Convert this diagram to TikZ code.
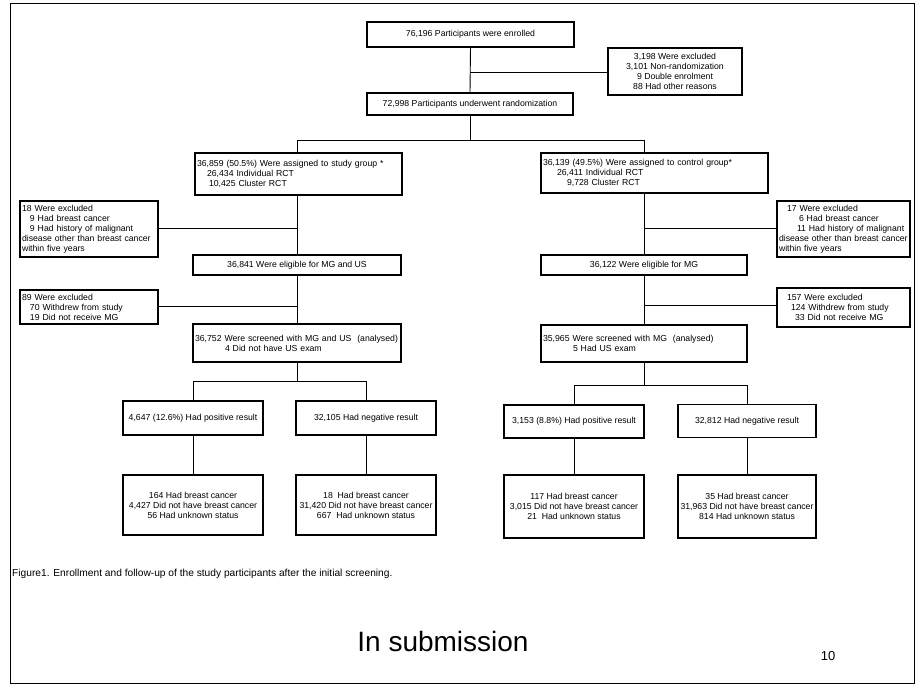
\documentclass[tikz,border=0pt]{standalone}
\usepackage{fontspec}
\setmainfont{Liberation Sans}
\newcommand{\bxfont}{\fontsize{8.7}{10}\selectfont}
\begin{document}
\begin{tikzpicture}[x=1pt,y=-1pt,
  fbox/.style={draw, line width=1.2pt, inner sep=1pt, font=\bxfont, align=center},
  lbox/.style={draw, line width=1.2pt, inner sep=2pt, font=\bxfont, align=left},
  conn/.style={line width=0.9pt}]
\useasboundingbox (0,0) rectangle (919,695);
\fill[white] (0,0) rectangle (919,695);
\draw[line width=0.8pt] (10,3) rectangle (914,683);

% top
\node[fbox, minimum width=207pt, minimum height=25pt] (enrol) at (470.5,34.5) {76,196 Participants were enrolled};
\node[fbox, minimum width=134pt, minimum height=47pt] (excl0) at (675,71.5) {3,198 Were excluded\\3,101 Non-randomization\\9 Double enrolment\\88 Had other reasons};
\node[fbox, minimum width=206pt, minimum height=22pt] (rand) at (470,104) {72,998 Participants underwent randomization};
\coordinate (j0) at (470,72);
\draw[conn] (enrol.south) -- (rand.north);
\draw[conn] (j0) -- (excl0.west |- j0);

% groups
\node[lbox, text width=203pt, minimum height=42pt] (groupL) at (298.5,174) {36,859 (50.5\%) Were assigned to study group *\\\hspace*{10pt}26,434 Individual RCT\\\hspace*{12pt}10,425 Cluster RCT};
\node[lbox, text width=223pt, minimum height=40pt] (groupR) at (654.5,173) {36,139 (49.5\%) Were assigned to control group*\\\hspace*{14pt}26,411 Individual RCT\\\hspace*{24pt}9,728 Cluster RCT};
\coordinate (jt) at (470,140);
\coordinate (jl) at (297,140);
\coordinate (jr) at (644,140);
\draw[conn] (rand.south) -- (jt);
\draw[conn] (jl) -- (jr);
\draw[conn] (jl) -- (jl |- groupL.north);
\draw[conn] (jr) -- (jr |- groupR.north);

% eligibility
\node[lbox, text width=134pt, minimum height=56pt] (exclL1) at (89,229) {18 Were excluded\\\hspace*{8pt}9 Had breast cancer\\\hspace*{8pt}9 Had history of malignant\\disease other than breast cancer\\within five years};
\node[lbox, text width=129pt, minimum height=56pt] (exclR1) at (843.5,229) {\hspace*{8pt}17 Were excluded\\\hspace*{20pt}6 Had breast cancer\\\hspace*{18pt}11 Had history of malignant\\disease other than breast cancer\\within five years};
\node[fbox, minimum width=208pt, minimum height=20pt] (eligL) at (297,265) {36,841 Were eligible for MG and US};
\node[fbox, minimum width=206pt, minimum height=20pt] (eligR) at (644,265) {36,122 Were eligible for MG};
\coordinate (kl) at (297,228);
\coordinate (kr) at (644,228);
\draw[conn] (jl |- groupL.south) -- (eligL.north);
\draw[conn] (jr |- groupR.south) -- (eligR.north);
\draw[conn] (kl) -- (exclL1.east |- kl);
\draw[conn] (kr) -- (exclR1.west |- kr);

% screening
\node[lbox, text width=134pt, minimum height=34pt] (exclL2) at (89,307) {89 Were excluded\\\hspace*{8pt}70 Withdrew from study\\\hspace*{8pt}19 Did not receive MG};
\node[lbox, text width=129pt, minimum height=39pt] (exclR2) at (843.5,307.5) {\hspace*{8pt}157 Were excluded\\\hspace*{12pt}124 Withdrew from study\\\hspace*{16pt}33 Did not receive MG};
\node[lbox, text width=204pt, minimum height=38pt] (scrL) at (297,343) {36,752 Were screened with MG and US \ (analysed)\\\hspace*{30pt}4 Did not have US exam};
\node[lbox, text width=202pt, minimum height=37pt] (scrR) at (644,343.5) {35,965 Were screened with MG \ (analysed)\\\hspace*{30pt}5 Had US exam};
\coordinate (ml) at (297,306);
\coordinate (mr) at (644,305);
\draw[conn] (eligL.south) -- (scrL.north);
\draw[conn] (eligR.south) -- (scrR.north);
\draw[conn] (ml) -- (exclL2.east |- ml);
\draw[conn] (mr) -- (exclR2.west |- mr);

% results
\node[fbox, minimum width=140pt, minimum height=34pt] (posL) at (193,418) {4,647 (12.6\%) Had positive result};
\node[fbox, minimum width=140pt, minimum height=34pt] (negL) at (366,418) {32,105 Had negative result};
\node[fbox, minimum width=140pt, minimum height=33pt] (posR) at (574,421.5) {3,153 (8.8\%) Had positive result};
\node[fbox, minimum width=138pt, minimum height=33pt] (negR) at (747,421) {32,812 Had negative result};
\coordinate (bl) at (297,381);
\coordinate (bl1) at (193,381);
\coordinate (bl2) at (366,381);
\coordinate (br) at (644,385);
\coordinate (br1) at (574,385);
\coordinate (br2) at (747,385);
\draw[conn] (scrL.south) -- (bl);
\draw[conn] (bl1) -- (bl2);
\draw[conn] (bl1) -- (posL.north);
\draw[conn] (bl2) -- (negL.north);
\draw[conn] (br |- scrR.south) -- (br);
\draw[conn] (br1) -- (br2);
\draw[conn] (br1) -- (posR.north);
\draw[conn] (br2) -- (negR.north);

\node[fbox, minimum width=140pt, minimum height=60pt] (resL1) at (193,505) {164 Had breast cancer\\4,427 Did not have breast cancer\\56 Had unknown status};
\node[fbox, minimum width=140pt, minimum height=60pt] (resL2) at (366,505) {18 \ Had breast cancer\\31,420 Did not have breast cancer\\667 \ Had unknown status};
\node[fbox, minimum width=140pt, minimum height=63pt] (resR1) at (574,506.5) {117 Had breast cancer\\3,015 Did not have breast cancer\\21 \ Had unknown status};
\node[fbox, minimum width=138pt, minimum height=63pt] (resR2) at (747,506.5) {35 Had breast cancer\\31,963 Did not have breast cancer\\814 Had unknown status};
\draw[conn] (posL.south) -- (resL1.north);
\draw[conn] (negL.south) -- (resL2.north);
\draw[conn] (posR.south) -- (resR1.north);
\draw[conn] (negR.south) -- (resR2.north);

% captions
\node[anchor=west, inner sep=0pt, font=\fontsize{10.2}{12}\selectfont] (cap) at (12,574) {Figure1. Enrollment and follow-up of the study participants after the initial screening.};
\node[inner sep=0pt, font=\fontsize{28}{32}\selectfont] (sub) at (443,641) {In submission};
\node[inner sep=0pt, font=\fontsize{13}{15}\selectfont] (pg) at (828,656) {10};
\end{tikzpicture}
\end{document}
